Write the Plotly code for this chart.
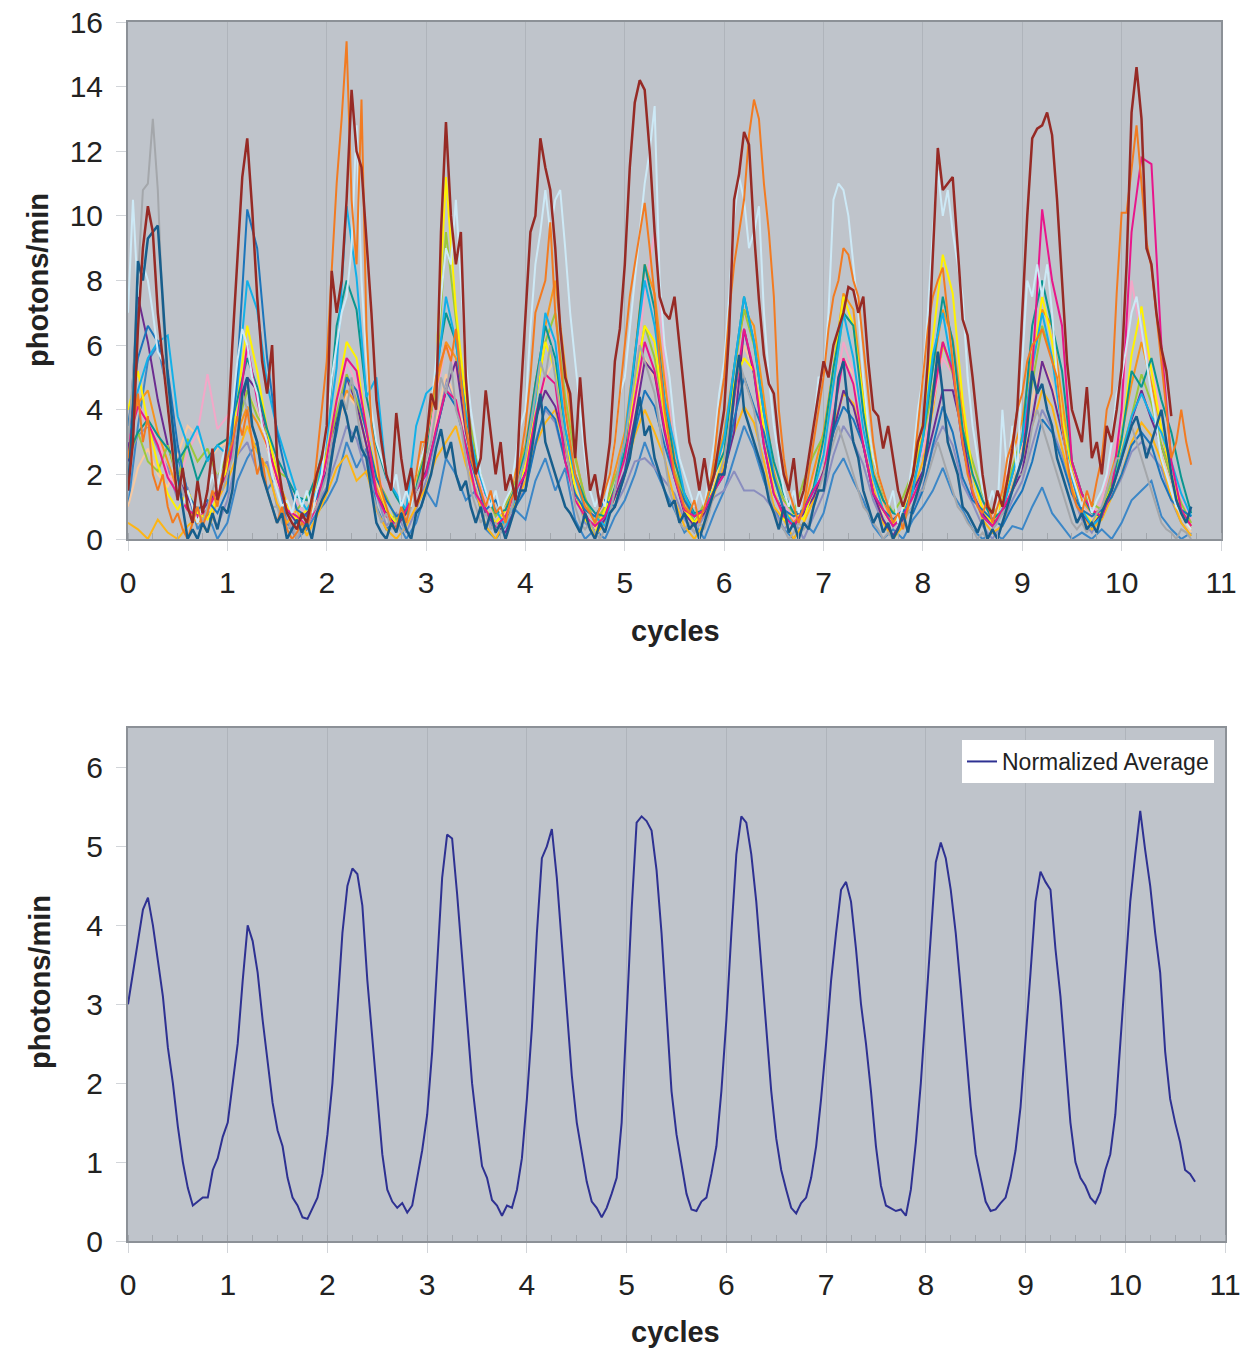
import plotly.graph_objects as go

# ---------------- data (photons/min) ----------------
STEP_FINE = 0.05    # cycles between samples for the fine series
STEP_COARSE = 0.1   # cycles between samples for the coarse series

dark_red = [
    1.5, 3.0, 6.5, 9.0, 10.3, 9.5, 7.0, 5.5, 4.0, 2.5, 1.2, 2.2, 1.0, 0.5, 1.8, 0.8, 1.5, 2.8, 1.2, 1.8,
    3.0, 6.0, 8.5, 11.2, 12.4, 10.2, 7.5, 5.5, 4.5, 6.0, 2.5, 1.5, 0.8, 0.5, 0.3, 0.8, 0.5, 1.2, 2.0, 2.5,
    3.5, 8.3, 7.0, 8.0, 10.5, 13.9, 12.0, 11.5, 9.3, 7.0, 4.3, 3.0, 2.0, 1.5, 3.9, 2.5, 1.5, 2.2, 1.0, 1.5,
    3.0, 4.5, 4.0, 9.5, 12.9, 10.0, 8.5, 9.5, 5.0, 3.0, 2.0, 2.5, 4.6, 3.2, 2.0, 3.0, 1.5, 2.0, 1.2, 4.3,
    7.0, 9.5, 10.0, 12.4, 11.5, 10.8, 9.0, 6.5, 5.0, 4.5, 2.5, 5.0, 3.0, 1.5, 2.0, 1.0, 1.8, 3.0, 5.5, 6.5,
    8.5, 11.5, 13.5, 14.2, 13.9, 12.0, 9.5, 7.5, 7.0, 6.8, 7.5, 5.9, 4.5, 3.0, 2.5, 1.5, 2.5, 1.5, 2.0, 3.0,
    4.0, 6.4, 10.5, 11.3, 12.6, 12.2, 9.5, 7.4, 5.7, 4.8, 4.5, 3.0, 2.0, 1.5, 2.5, 1.0, 1.5, 2.5, 3.5, 4.5,
    5.5, 5.0, 6.0, 6.5, 7.0, 7.8, 7.7, 7.0, 7.5, 5.5, 4.0, 3.8, 2.8, 3.5, 2.5, 1.5, 1.0, 1.5, 2.0, 3.0,
    3.5, 5.5, 9.0, 12.1, 10.8, 11.0, 11.2, 9.0, 6.8, 6.3, 5.0, 3.5, 2.0, 1.0, 0.8, 1.5, 1.0, 1.8, 2.8, 4.0,
    7.0, 10.0, 12.4, 12.7, 12.8, 13.2, 12.5, 10.5, 8.0, 5.5, 4.0, 3.5, 3.0, 4.7, 2.5, 3.0, 2.0, 3.5, 3.0, 4.0,
    5.3, 8.5, 13.2, 14.6, 13.0, 9.0, 8.5, 7.0, 5.9, 5.2, 3.8,
]

orange = [
    2.5, 3.5, 4.5, 3.0, 3.8, 2.0, 1.5, 2.0, 1.0, 0.5, 0.8, 0.3, 0.0, 0.5, 1.0, 0.4, 0.8, 1.5, 1.0, 2.0,
    2.5, 3.0, 3.8, 3.2, 4.0, 3.0, 2.0, 2.5, 1.5, 1.0, 0.5, 1.0, 0.3, 0.0, 0.2, 0.5, 0.3, 1.0, 2.5, 4.0,
    5.5, 8.3, 11.0, 13.0, 15.4, 10.5, 8.5, 13.6, 6.5, 3.5, 2.5, 1.5, 1.0, 0.5, 0.3, 1.0, 0.5, 1.2, 2.0, 3.0,
    3.0, 4.0, 5.0, 5.5, 6.0, 5.5, 6.5, 5.0, 3.5, 2.5, 2.0, 1.5, 1.0, 1.5, 0.8, 1.0, 0.5, 1.2, 1.5, 2.5,
    3.5, 5.0, 7.0, 7.5, 8.0, 9.8, 7.0, 5.5, 4.0, 3.0, 2.0, 1.5, 1.0, 0.8, 0.5, 1.0, 1.5, 2.0, 3.0, 4.5,
    6.0, 7.5, 8.5, 9.5, 10.4, 9.0, 7.5, 5.5, 4.0, 3.0, 2.0, 1.5, 1.0, 0.8, 1.2, 0.5, 1.0, 1.5, 2.5, 4.0,
    5.0, 7.0, 8.5, 9.5, 10.5, 12.5, 13.6, 13.0, 11.0, 9.5, 7.5, 4.0, 2.5, 1.5, 1.0, 0.5, 1.0, 2.0, 3.0, 4.0,
    5.0, 6.5, 7.5, 8.0, 9.0, 8.8, 8.0, 7.5, 6.0, 4.5, 3.0, 2.0, 1.5, 1.0, 0.5, 0.8, 0.3, 1.0, 2.0, 3.5,
    5.0, 6.5, 7.5, 8.0, 8.4, 7.0, 5.5, 4.0, 3.0, 2.0, 1.5, 1.0, 0.8, 1.2, 0.5, 1.0, 1.5, 2.5, 3.0, 4.0,
    4.5, 5.5, 6.0, 6.2, 6.5, 6.0, 5.5, 5.0, 3.5, 2.5, 1.5, 1.0, 0.8, 1.5, 1.0, 1.8, 2.5, 4.0, 4.5, 7.6,
    10.1, 10.1, 11.5, 12.8, 11.0, 9.2, 8.4, 7.0, 5.5, 4.0, 2.5, 3.0, 4.0, 3.0, 2.3,
]

light_blue = [
    7.0, 10.5, 7.5, 8.5, 8.0, 7.0, 5.8, 5.5, 4.0, 2.5, 1.5, 1.0, 1.5, 1.0, 0.5, 1.0, 1.5, 2.0, 1.5, 2.5,
    3.0, 4.0, 5.5, 6.5, 6.0, 5.0, 4.5, 3.5, 3.0, 2.0, 1.5, 1.0, 1.2, 0.8, 1.5, 1.0, 1.5, 0.8, 1.5, 2.0,
    3.5, 5.0, 6.0, 7.0, 7.5, 9.0, 12.8, 8.0, 5.5, 4.0, 3.0, 2.5, 2.0, 1.5, 2.0, 1.0, 1.5, 1.0, 2.0, 2.5,
    3.0, 4.0, 5.5, 7.5, 9.0, 8.5, 10.5, 8.0, 5.5, 4.0, 3.0, 2.0, 1.5, 1.0, 1.5, 0.8, 1.2, 1.5, 2.5, 3.5,
    4.0, 6.5, 8.5, 9.5, 10.8, 9.5, 10.5, 10.8, 9.0, 7.0, 5.5, 4.0, 2.5, 1.5, 1.0, 1.5, 1.0, 2.0, 3.0, 4.5,
    5.0, 6.5, 8.0, 9.5, 11.0, 12.0, 13.4, 8.0, 6.0, 5.0, 3.5, 2.5, 2.0, 1.5, 1.0, 1.5, 1.0, 2.0, 3.0, 4.5,
    5.5, 7.5, 10.0, 11.2, 10.5, 9.0, 9.5, 10.3, 7.0, 5.0, 3.5, 2.5, 1.5, 1.0, 1.5, 0.8, 1.5, 2.5, 3.5, 5.0,
    5.0, 7.0, 10.5, 11.0, 10.8, 10.0, 8.5, 7.0, 5.0, 3.5, 2.5, 2.0, 1.5, 1.0, 1.5, 0.5, 1.0, 1.5, 2.5, 4.0,
    5.0, 7.0, 9.5, 11.4, 10.0, 10.8, 9.5, 8.5, 7.5, 5.0, 3.5, 2.5, 1.5, 1.0, 1.5, 0.8, 4.0, 2.0, 3.5, 2.0,
    5.5, 8.0, 7.5, 8.5, 7.5, 8.5, 7.0, 5.0, 3.5, 2.5, 2.0, 1.5, 1.0, 1.5, 0.8, 1.2, 1.5, 2.0, 3.0, 4.5,
    5.0, 6.0, 7.0, 7.5, 6.5, 5.5, 4.5, 3.5, 2.5, 2.0, 1.5, 1.0, 0.8, 0.5, 0.3,
]

dark_teal = [
    1.5, 4.0, 8.6, 8.0, 9.3, 9.5, 9.7, 7.4, 5.0, 3.5, 2.0, 1.0, 0.0, 0.3, 0.0, 0.5, 0.2, 0.8, 0.3, 1.0,
    0.8, 1.5, 3.0, 4.5, 5.0, 3.5, 3.0, 2.0, 1.5, 1.0, 0.5, 0.8, 0.0, 0.3, 0.6, 0.2, 0.5, 0.0, 0.8, 1.2,
    1.5, 2.5, 3.5, 4.3, 3.8, 3.0, 3.5, 2.8, 2.5, 1.5, 0.5, 0.2, 0.0, 0.5, 0.2, 0.8, 0.3, 0.0, 0.8, 1.0,
    1.5, 2.0, 2.8, 3.4, 2.5, 3.0, 2.0, 1.5, 1.8, 1.0, 0.5, 1.0, 0.3, 0.8, 0.2, 0.5, 0.0, 0.5, 1.0, 1.5,
    1.5, 2.5, 3.5, 4.5, 3.0, 2.5, 2.0, 1.5, 1.0, 0.8, 0.5, 0.2, 0.8, 0.3, 0.0, 0.5, 0.2, 0.8, 1.0, 1.5,
    2.0, 2.5, 3.5, 4.4, 3.2, 3.5, 2.5, 2.0, 1.5, 1.0, 1.2, 0.5, 0.8, 0.3, 0.5, 0.0, 0.5, 1.0, 1.5, 2.0,
    2.0, 3.0, 4.5, 5.7, 4.0, 3.5, 3.0, 2.5, 2.0, 1.2, 0.8, 0.3, 1.0, 0.2, 0.5, 0.0, 0.5, 0.3, 1.0, 1.5,
    1.5, 2.5, 3.5, 5.0, 5.5, 4.0, 3.0, 2.5, 1.5, 1.0, 0.5, 0.8, 0.2, 0.5, 0.0, 0.3, 0.8, 0.2, 1.0, 1.5,
    2.0, 3.0, 4.5, 5.8, 4.5, 3.0, 2.5, 2.0, 1.0, 0.8, 0.5, 0.2, 0.6, 0.0, 0.3, 0.0, 0.5, 1.0, 1.5, 2.0,
    2.5, 3.5, 5.2, 4.5, 4.8, 4.0, 3.5, 2.5, 2.0, 1.5, 1.0, 0.5, 0.8, 0.3, 0.5, 0.2, 0.8, 1.2, 1.5, 2.0,
    2.5, 3.0, 3.5, 3.8, 3.2, 2.5, 3.0, 3.5, 4.0, 3.0, 2.0, 1.2, 0.8, 0.5, 1.0,
]

gray = [
    3.0, 5.0, 8.0, 10.8, 11.0, 13.0, 10.8, 7.0, 4.5, 3.0, 2.0, 1.5, 1.0, 0.5, 1.0, 0.5, 1.0, 1.5, 2.0, 1.5,
    2.0, 2.5, 3.5, 4.5, 4.0, 3.5, 3.0, 2.0, 1.5, 1.0, 1.0, 0.5, 0.3, 0.5, 0.0, 0.5, 0.3, 0.8, 1.0, 1.5,
    2.0, 3.0, 3.5, 4.5, 4.0, 5.0, 4.0, 3.0, 2.5, 1.5, 1.0, 0.5, 0.8, 0.3, 0.5, 0.2, 0.5, 1.0, 1.5, 2.0,
    2.5, 3.0, 4.0, 5.0, 4.5, 5.5, 4.0, 3.5, 2.5, 1.5, 1.0, 0.5, 0.8, 0.3, 0.5, 0.2, 0.5, 0.8, 1.5, 2.0,
    2.5, 3.5, 4.5, 5.5, 5.0, 6.0, 5.0, 4.0, 3.0, 2.0, 1.0, 0.5, 0.3, 0.5, 0.2, 0.0, 0.3, 0.8, 1.5, 2.5,
    3.0, 4.0, 5.0, 6.0, 5.5, 5.0, 4.5, 3.5, 2.5, 1.5, 1.0, 0.5, 0.3, 0.5, 0.2, 0.5, 0.3, 0.8, 1.5, 2.0,
    2.5, 3.5, 4.5, 5.5, 5.0, 4.5, 4.0, 3.0, 2.0, 1.5, 0.8, 0.5, 0.3, 0.0, 0.2, 0.5, 0.3, 0.5, 1.0, 1.5,
    2.0, 2.5, 3.0, 3.5, 3.0, 2.5, 2.0, 1.5, 1.0, 0.8, 0.5, 0.3, 0.0, 0.2, 0.0, 0.3, 0.5, 0.8, 1.0, 1.5,
    1.5, 2.0, 2.5, 3.0, 2.5, 2.0, 1.5, 1.0, 0.8, 0.5, 0.3, 0.0, 0.2, 0.0, 0.3, 0.5, 0.8, 1.0, 1.5, 2.0,
    2.0, 2.5, 3.5, 4.0, 3.5, 3.0, 2.5, 2.0, 1.5, 1.0, 0.5, 0.3, 0.5, 0.2, 0.5, 0.8, 1.0, 1.5, 2.0, 2.5,
    2.5, 3.0, 3.5, 3.0, 2.5, 2.0, 1.5, 1.0, 0.5, 0.3, 0.2, 0.0, 0.3, 0.2, 0.0,
]

medium_blue = [
    3.5, 5.6, 6.6, 6.1, 5.2, 2.9, 1.4, 0.9, 1.2, 0.8,
    1.5, 5.2, 10.2, 9.0, 5.6, 3.3, 1.9, 0.9, 0.7, 1.3,
    2.0, 3.3, 5.0, 4.6, 3.3, 1.9, 1.2, 0.7, 0.9, 1.5,
    2.0, 3.3, 4.6, 4.1, 2.9, 1.9, 0.9, 1.2, 0.6, 1.0,
    1.5, 2.9, 4.1, 3.7, 2.4, 1.4, 0.9, 0.7, 1.2, 1.0,
    2.0, 3.3, 4.6, 4.1, 2.9, 1.9, 1.2, 0.7, 0.9, 1.5,
    2.0, 3.7, 5.0, 4.1, 3.3, 1.9, 0.9, 0.7, 0.9, 1.5,
    2.0, 3.3, 4.1, 3.7, 2.9, 1.4, 0.9, 0.6, 0.9, 0.8,
    1.5, 2.9, 4.1, 3.3, 1.9, 1.2, 0.9, 0.6, 0.4, 1.0,
    1.5, 2.4, 3.7, 3.3, 2.4, 1.4, 0.9, 0.7, 0.9, 1.3,
    2.0, 2.9, 3.3, 2.9, 1.9, 1.2, 0.9, 0.7,
]

sky_blue = [
    3.0, 4.6, 5.6, 6.1, 6.3, 3.8, 2.9, 3.5, 2.4, 2.9,
    2.6, 4.7, 8.0, 7.1, 4.8, 3.4, 2.4, 1.4, 0.9, 1.5,
    3.1, 5.3, 10.3, 8.1, 4.4, 5.0, 1.9, 1.4, 0.9, 3.5,
    4.5, 4.8, 7.5, 6.1, 3.9, 2.4, 1.4, 0.9, 0.4, 1.3,
    2.6, 4.3, 7.0, 6.1, 3.4, 1.9, 0.9, 0.7, 0.4, 1.5,
    3.1, 5.7, 8.0, 6.6, 4.3, 2.9, 1.4, 0.7, 0.9, 2.0,
    3.1, 5.3, 7.5, 6.1, 3.9, 1.9, 0.9, 0.4, 0.9, 1.5,
    2.6, 4.8, 7.0, 5.6, 3.4, 1.9, 0.9, 0.4, 0.7, 1.5,
    3.1, 5.7, 7.0, 5.2, 2.9, 1.4, 0.7, 0.4, 0.9, 2.0,
    3.1, 5.3, 7.0, 5.6, 3.4, 1.9, 0.9, 0.4, 0.7, 1.5,
    2.6, 3.8, 4.5, 3.8, 3.3, 2.4, 1.4, 0.7,
]

teal = [
    2.6, 3.3, 3.7, 3.2, 2.8, 2.4, 2.9, 1.8, 2.5, 2.9,
    3.1, 4.3, 5.6, 4.7, 3.4, 2.5, 1.9, 1.3, 1.2, 2.0,
    3.2, 6.6, 8.0, 7.1, 4.4, 2.9, 1.9, 1.3, 0.8, 1.6,
    2.7, 5.2, 7.0, 6.1, 3.8, 2.4, 1.4, 0.8, 0.9, 1.6,
    2.7, 4.8, 6.6, 5.6, 3.4, 2.0, 1.2, 0.8, 0.7, 1.6,
    2.7, 5.7, 8.5, 7.1, 4.3, 2.4, 1.4, 0.8, 0.9, 2.0,
    2.7, 5.3, 7.5, 6.1, 3.9, 2.4, 1.4, 0.8, 0.9, 1.6,
    3.1, 5.3, 7.0, 6.6, 3.9, 2.0, 1.2, 0.8, 0.7, 1.6,
    3.1, 5.3, 7.5, 6.1, 3.4, 2.0, 1.2, 0.6, 0.9, 2.0,
    3.1, 6.6, 8.0, 6.6, 5.2, 2.4, 1.4, 0.8, 0.7, 1.6,
    3.1, 5.2, 4.7, 5.6, 4.3, 3.3, 1.9, 0.8,
]

magenta = [
    3.0, 4.1, 3.6, 2.9, 1.9, 1.4, 0.9, 0.7, 0.9, 1.5,
    2.0, 3.7, 6.0, 4.3, 2.9, 1.9, 0.9, 0.7, 0.4, 1.0,
    2.5, 4.3, 5.6, 5.2, 3.4, 1.4, 0.7, 0.4, 0.9, 1.5,
    2.0, 3.4, 4.6, 4.3, 2.9, 1.4, 0.9, 0.4, 0.7, 1.5,
    2.0, 3.8, 5.1, 4.8, 2.4, 1.2, 0.7, 0.4, 0.7, 1.5,
    2.5, 4.3, 6.1, 5.2, 3.4, 1.9, 0.9, 0.7, 0.9, 1.5,
    2.0, 4.3, 6.5, 5.2, 2.9, 1.4, 0.7, 0.4, 0.9, 1.5,
    2.0, 3.8, 5.6, 4.8, 2.9, 1.4, 0.9, 0.4, 0.7, 1.3,
    2.0, 4.3, 6.1, 5.2, 2.9, 1.4, 0.7, 0.4, 0.9, 1.5,
    2.5, 5.2, 10.2, 8.0, 6.6, 2.4, 1.4, 0.9, 0.7, 1.5,
    4.0, 9.5, 11.8, 11.6, 6.0, 2.4, 0.9, 0.4,
]

yellow = [
    4.0, 5.2, 3.6, 2.3, 1.4, 0.9, 1.5, 0.8, 0.6, 1.3,
    2.2, 4.3, 6.6, 5.2, 3.4, 2.0, 1.0, 0.6, 0.9, 1.6,
    2.6, 4.3, 6.1, 5.6, 3.4, 2.0, 0.9, 0.5, 0.9, 1.6,
    2.7, 5.3, 11.2, 7.1, 4.3, 2.0, 0.9, 0.5, 0.9, 1.6,
    2.2, 4.3, 6.1, 5.2, 3.4, 1.5, 0.6, 0.2, 0.9, 1.6,
    2.6, 4.8, 6.6, 6.1, 3.8, 2.0, 0.9, 0.5, 0.9, 1.6,
    2.6, 4.8, 5.6, 5.2, 3.4, 1.5, 0.6, 0.8, 0.6, 1.6,
    3.1, 5.3, 7.5, 6.6, 4.3, 2.0, 0.9, 0.5, 0.9, 2.0,
    3.6, 6.2, 8.8, 7.6, 4.3, 2.0, 0.9, 0.5, 1.2, 2.0,
    3.1, 5.3, 7.5, 6.1, 3.8, 2.0, 0.9, 0.5, 0.9, 1.6,
    3.1, 5.7, 7.2, 5.2, 3.4, 2.0, 0.9, 0.4,
]

yellow_green = [
    2.5, 3.3, 2.4, 2.1, 2.9, 1.8, 3.1, 2.4, 2.8, 1.9,
    2.6, 3.5, 4.6, 3.8, 3.3, 2.1, 1.9, 0.9, 1.3, 1.8,
    2.7, 3.9, 5.1, 4.3, 3.4, 1.9, 1.3, 0.6, 0.9, 1.7,
    2.9, 4.8, 9.5, 6.8, 4.3, 2.6, 1.4, 0.7, 1.1, 1.8,
    2.8, 4.3, 6.1, 7.0, 4.4, 2.5, 1.3, 0.5, 1.0, 1.9,
    2.7, 4.8, 6.6, 5.6, 3.8, 2.1, 1.3, 0.5, 1.1, 2.2,
    3.1, 5.2, 7.1, 6.0, 3.9, 2.0, 1.2, 0.8, 1.8, 2.6,
    3.2, 4.8, 7.0, 6.6, 4.3, 2.5, 1.4, 0.8, 1.3, 2.1,
    3.1, 4.7, 6.1, 5.1, 3.4, 2.4, 1.4, 0.8, 1.2, 2.2,
    3.2, 4.8, 6.6, 5.6, 3.8, 2.4, 1.4, 1.1, 0.9, 1.8,
    2.7, 3.8, 5.1, 4.2, 2.9, 1.9, 1.1, 0.5,
]

purple = [
    2.4, 7.5, 6.1, 4.3, 2.9, 1.9, 1.3, 0.7, 1.1, 1.5,
    2.1, 3.3, 5.0, 4.6, 3.3, 1.9, 0.9, 0.5, 0.8, 1.3,
    2.1, 3.7, 5.0, 4.2, 2.9, 1.4, 0.8, 0.4, 0.8, 1.5,
    2.1, 3.3, 4.6, 5.5, 3.3, 1.9, 0.8, 0.4, 0.2, 1.0,
    2.1, 3.7, 4.6, 4.1, 2.9, 1.4, 0.8, 0.2, 0.6, 1.3,
    2.1, 3.7, 5.5, 5.1, 3.3, 1.9, 0.8, 0.4, 0.8, 1.5,
    2.1, 3.3, 6.5, 5.1, 2.9, 1.4, 0.8, 0.4, 0.8, 1.3,
    2.1, 3.3, 4.6, 4.1, 2.9, 1.4, 0.6, 0.1, 0.6, 1.5,
    2.1, 3.3, 4.6, 4.6, 3.3, 1.4, 0.8, 0.4, 0.8, 1.5,
    2.1, 3.7, 5.5, 4.6, 3.3, 1.9, 0.8, 0.4, 0.8, 1.5,
    2.5, 3.7, 4.6, 3.7, 2.9, 1.9, 0.8, 0.4,
]

light_pink = [
    3.0, 4.2, 3.5, 3.2, 2.0, 1.6, 2.7, 3.3, 5.1, 3.4,
    3.8, 4.3, 5.6, 4.6, 3.5, 2.4, 1.8, 1.1, 0.7, 1.5,
    2.5, 3.8, 5.5, 4.8, 3.4, 2.1, 1.3, 0.6, 0.9, 1.7,
    2.8, 4.3, 6.1, 5.2, 3.8, 2.3, 1.2, 0.7, 0.6, 1.6,
    2.7, 4.7, 6.5, 6.1, 4.3, 2.5, 1.3, 0.7, 1.0, 2.0,
    2.9, 4.8, 7.6, 9.5, 5.4, 2.6, 1.4, 0.7, 1.0, 2.1,
    3.2, 5.2, 7.0, 6.2, 3.9, 2.1, 1.1, 0.6, 0.9, 2.0,
    2.8, 4.3, 6.1, 5.2, 3.8, 2.0, 1.1, 0.6, 1.0, 2.1,
    2.7, 4.2, 5.6, 5.1, 3.4, 2.0, 1.2, 0.7, 1.5, 2.8,
    3.2, 5.1, 6.6, 5.7, 3.6, 2.0, 1.3, 0.7, 1.2, 2.6,
    3.6, 8.0, 6.2, 5.3, 3.9, 2.4, 1.3, 0.6,
]

peach = [
    1.0, 2.2, 2.8, 2.0, 1.6, 2.6, 3.5, 3.2, 2.4, 2.8,
    3.0, 3.8, 4.6, 3.9, 2.8, 1.7, 1.2, 0.6, 0.4, 1.2,
    2.2, 3.4, 4.5, 4.1, 3.0, 1.9, 0.7, 0.4, 0.9, 1.6,
    2.5, 3.6, 5.1, 4.3, 3.3, 1.8, 0.9, 0.4, 0.8, 1.5,
    2.4, 3.8, 5.0, 5.6, 3.5, 1.6, 0.8, 0.3, 0.9, 1.6,
    2.6, 4.0, 5.6, 5.0, 3.6, 2.0, 0.9, 0.5, 0.8, 1.7,
    2.9, 4.3, 6.0, 5.2, 3.5, 2.0, 0.8, 0.4, 0.9, 1.8,
    2.8, 4.4, 5.6, 5.1, 3.6, 1.9, 0.8, 0.4, 0.9, 1.8,
    3.0, 4.7, 6.1, 5.2, 3.5, 2.1, 1.0, 0.5, 0.9, 1.9,
    2.9, 4.3, 5.5, 4.8, 3.4, 2.0, 1.0, 0.6, 0.8, 1.7,
    2.8, 3.8, 4.6, 3.8, 2.9, 1.5, 0.7, 0.2,
]

golden = [
    0.5, 0.3, 0.0, 0.6, 0.2, 0.0, 0.4, 0.7, 0.2, 1.2,
    1.8, 2.6, 3.5, 2.7, 2.2, 1.1, 0.5, 0.9, 0.1, 0.7,
    1.4, 2.2, 2.6, 1.8, 2.1, 0.9, 0.3, 0.0, 0.4, 1.0,
    1.6, 2.5, 3.0, 3.5, 2.3, 1.5, 0.4, 0.0, 0.6, 1.1,
    1.8, 2.9, 3.6, 4.0, 2.8, 1.4, 0.8, 0.1, 0.5, 1.3,
    2.0, 3.2, 4.0, 3.3, 2.5, 1.2, 0.4, 0.0, 0.5, 1.4,
    2.3, 3.3, 4.1, 3.6, 2.4, 1.0, 0.6, 0.0, 0.5, 1.2,
    2.1, 3.5, 4.5, 4.2, 2.9, 1.6, 0.5, 0.0, 0.4, 1.5,
    2.4, 4.0, 6.0, 5.3, 3.4, 1.5, 0.6, 0.2, 0.4, 1.6,
    2.5, 3.5, 4.6, 4.1, 2.8, 1.6, 0.8, 0.3, 0.6, 1.3,
    2.0, 3.0, 3.6, 3.2, 2.4, 1.3, 0.5, 0.1,
]

slate = [
    2.5, 3.2, 3.5, 2.8, 2.2, 1.2, 1.6, 0.5, 0.9, 0.4,
    1.2, 2.6, 3.0, 2.1, 2.4, 1.0, 0.6, 0.0, 0.5, 1.1,
    1.6, 2.5, 3.5, 3.1, 2.0, 1.4, 0.4, 0.8, 0.2, 0.9,
    1.8, 3.2, 5.0, 4.2, 2.9, 1.3, 0.8, 0.2, 0.6, 1.2,
    1.5, 3.0, 4.0, 3.6, 2.4, 1.5, 0.5, 0.2, 0.7, 1.0,
    1.6, 2.4, 2.5, 2.2, 1.8, 1.4, 0.6, 0.2, 0.7, 1.3,
    1.5, 2.1, 1.5, 1.5, 1.3, 0.9, 0.3, 0.6, 0.0, 0.7,
    1.4, 2.6, 3.5, 3.0, 2.3, 1.2, 0.5, 0.1, 0.6, 1.0,
    1.6, 2.8, 3.5, 2.9, 1.7, 1.1, 0.4, 0.0, 0.5, 1.2,
    1.8, 2.9, 4.0, 3.4, 2.6, 1.4, 0.6, 0.2, 0.8, 1.3,
    1.9, 2.7, 3.0, 2.6, 2.2, 1.2, 0.5, 0.1,
]

light_orange = [
    3.5, 4.2, 4.6, 3.3, 2.4, 1.5, 0.9, 0.5, 0.9, 1.6,
    2.3, 3.3, 4.1, 3.6, 2.9, 1.9, 1.1, 0.5, 0.8, 1.6,
    2.7, 3.8, 4.6, 4.2, 2.9, 1.6, 0.8, 0.4, 0.8, 1.7,
    3.2, 4.7, 6.1, 5.6, 3.9, 2.0, 0.9, 0.5, 0.9, 2.1,
    2.9, 4.8, 6.6, 8.0, 5.3, 2.6, 1.2, 0.5, 0.9, 2.1,
    3.3, 5.7, 8.5, 7.6, 4.9, 2.5, 1.2, 0.5, 0.9, 2.2,
    3.3, 5.3, 7.1, 6.6, 4.4, 2.1, 0.9, 0.5, 0.9, 2.1,
    3.3, 5.3, 7.6, 7.1, 4.4, 2.1, 1.2, 0.5, 0.9, 2.1,
    3.2, 5.3, 7.1, 6.2, 3.9, 2.0, 0.9, 0.5, 1.2, 2.6,
    3.7, 5.7, 7.1, 6.6, 4.4, 2.1, 1.2, 0.8, 0.9, 2.1,
    3.2, 4.8, 6.1, 4.8, 3.4, 1.9, 0.8, 0.3,
]

steel_blue = [
    1.0, 3.5, 5.5, 6.0, 4.5, 2.5, 1.5, 0.3, 0.8, 0.0,
    0.5, 1.8, 2.5, 3.0, 1.5, 2.0, 0.5, 0.0, 0.3, 0.8,
    1.2, 1.8, 3.0, 2.2, 2.8, 1.0, 0.3, 0.6, 0.0, 0.5,
    1.5, 1.0, 2.5, 2.0, 1.2, 1.5, 0.3, 0.0, 0.4, 0.9,
    0.6, 1.8, 2.5, 1.5, 2.2, 0.6, 0.0, 0.3, 0.0, 0.7,
    1.2, 2.0, 3.0, 2.2, 1.5, 0.9, 0.2, 0.5, 0.0, 0.8,
    1.5, 2.5, 3.5, 2.8, 1.8, 1.0, 0.3, 0.0, 0.5, 0.2,
    0.8, 2.0, 2.5, 1.8, 1.2, 0.4, 0.0, 0.3, 0.0, 0.6,
    1.0, 1.5, 2.2, 1.4, 0.9, 0.3, 0.0, 0.2, 0.0, 0.4,
    0.3, 1.0, 1.6, 0.8, 0.4, 0.0, 0.2, 0.0, 0.3, 0.0,
    0.5, 1.2, 1.5, 1.8, 0.7, 0.3, 0.0, 0.2,
]

normalized_average = [
    3.0, 3.4, 3.8, 4.2, 4.35, 4.0, 3.55, 3.1, 2.45, 2.0, 1.45, 1.0, 0.67, 0.45, 0.5, 0.55, 0.55, 0.9, 1.05, 1.32,
    1.5, 2.0, 2.5, 3.3, 4.0, 3.8, 3.4, 2.8, 2.3, 1.75, 1.4, 1.2, 0.8, 0.55, 0.45, 0.3, 0.28, 0.42, 0.55, 0.85,
    1.35, 2.0, 2.9, 3.9, 4.5, 4.72, 4.65, 4.25, 3.3, 2.6, 1.9, 1.1, 0.65, 0.5, 0.42, 0.48, 0.36, 0.45, 0.8, 1.15,
    1.6, 2.4, 3.5, 4.6, 5.15, 5.1, 4.4, 3.6, 2.8, 2.0, 1.45, 0.95, 0.8, 0.52, 0.45, 0.32, 0.45, 0.42, 0.65, 1.05,
    1.8, 2.7, 3.9, 4.85, 5.0, 5.22, 4.6, 3.8, 2.9, 2.1, 1.5, 1.15, 0.75, 0.5, 0.42, 0.3, 0.42, 0.6, 0.8, 1.5,
    2.8, 4.2, 5.3, 5.38, 5.32, 5.2, 4.7, 3.9, 2.9, 1.9, 1.35, 0.95, 0.6, 0.4, 0.38, 0.5, 0.55, 0.85, 1.2, 1.9,
    2.8, 3.9, 4.9, 5.38, 5.3, 4.9, 4.3, 3.5, 2.7, 1.9, 1.3, 0.9, 0.65, 0.42, 0.35, 0.48, 0.55, 0.8, 1.2, 1.8,
    2.5, 3.3, 3.9, 4.45, 4.55, 4.3, 3.7, 3.0, 2.5, 1.9, 1.2, 0.7, 0.45, 0.42, 0.38, 0.4, 0.32, 0.65, 1.25, 2.0,
    2.9, 3.9, 4.8, 5.05, 4.85, 4.45, 3.9, 3.2, 2.4, 1.7, 1.1, 0.8, 0.5, 0.38, 0.4, 0.48, 0.55, 0.8, 1.15, 1.7,
    2.5, 3.4, 4.3, 4.68, 4.55, 4.45, 3.7, 3.1, 2.3, 1.5, 1.0, 0.8, 0.7, 0.55, 0.48, 0.62, 0.9, 1.1, 1.6, 2.5,
    3.5, 4.3, 4.9, 5.45, 4.95, 4.5, 3.9, 3.4, 2.4, 1.8, 1.5, 1.25, 0.9, 0.85, 0.75,
]

# drawing order (first = underneath), colours, sampling step, line width
top_series = [
    ("steel blue", steel_blue, STEP_COARSE, "#3C87C7", 2),
    ("slate", slate, STEP_COARSE, "#8A8EBF", 2),
    ("golden", golden, STEP_COARSE, "#FDB515", 2),
    ("peach", peach, STEP_COARSE, "#F8C9A0", 2),
    ("light pink", light_pink, STEP_COARSE, "#F3A7C8", 2),
    ("light orange", light_orange, STEP_COARSE, "#F7941D", 2),
    ("purple", purple, STEP_COARSE, "#6B2C91", 2),
    ("yellow green", yellow_green, STEP_COARSE, "#9BC83C", 2),
    ("yellow", yellow, STEP_COARSE, "#FFF200", 2),
    ("teal", teal, STEP_COARSE, "#0A9690", 2),
    ("sky blue", sky_blue, STEP_COARSE, "#13B0E8", 2),
    ("medium blue", medium_blue, STEP_COARSE, "#1B75BB", 2),
    ("magenta", magenta, STEP_COARSE, "#E8168B", 2),
    ("gray", gray, STEP_FINE, "#A4A7AB", 2),
    ("light blue", light_blue, STEP_FINE, "#CDE9F6", 2),
    ("orange", orange, STEP_FINE, "#F27B21", 2),
    ("dark teal", dark_teal, STEP_FINE, "#175E8C", 2.5),
    ("dark red", dark_red, STEP_FINE, "#962A25", 2.5),
]

FONT = "Liberation Sans, Arial, Helvetica, sans-serif"
W, H = 1242, 1349

fig = go.Figure()
for name, vals, step, color, width in top_series:
    fig.add_trace(go.Scatter(
        x=[round(i * step, 3) for i in range(len(vals))], y=vals,
        mode="lines", line=dict(color=color, width=width),
        name=name, showlegend=False, xaxis="x", yaxis="y",
    ))

fig.add_trace(go.Scatter(
    x=[round(i * STEP_FINE, 3) for i in range(len(normalized_average))],
    y=normalized_average, mode="lines",
    line=dict(color="#2E3192", width=2),
    name="Normalized Average", showlegend=True, xaxis="x2", yaxis="y2",
))

# plot-area pixel boxes
top_box = dict(l=128, r=1221, t=22, b=539)
bot_box = dict(l=128, r=1225, t=728, b=1241)


def xdom(b):
    return [b["l"] / W, b["r"] / W]


def ydom(b):
    return [1 - b["b"] / H, 1 - b["t"] / H]


grid_col = "#AFB4BB"
frame_col = "#8C9197"
tick_col = "#D2D5D9"

xcommon = dict(
    range=[0, 11], tickmode="linear", tick0=0, dtick=1,
    showgrid=True, gridcolor=grid_col, gridwidth=1,
    ticks="outside", ticklen=10, tickcolor=tick_col, tickwidth=1,
    showline=True, linecolor=frame_col, linewidth=2, mirror=True,
    minor=dict(dtick=0.25, ticks="inside", ticklen=6, tickcolor="#A2A7AD", showgrid=False),
    tickfont=dict(family=FONT, size=30, color="#222222"),
    ticklabelstandoff=6, zeroline=False, fixedrange=True, automargin=False,
)
ycommon = dict(
    showgrid=False, ticks="outside", ticklen=10, tickcolor=tick_col, tickwidth=1,
    showline=True, linecolor=frame_col, linewidth=2, mirror=True,
    tickfont=dict(family=FONT, size=30, color="#222222"),
    ticklabelstandoff=7, zeroline=False, fixedrange=True, automargin=False,
)

fig.update_layout(
    width=W, height=H,
    margin=dict(l=0, r=0, t=0, b=0, autoexpand=False),
    paper_bgcolor="white", plot_bgcolor="#BFC4CB",
    xaxis=dict(domain=xdom(top_box), anchor="y", **xcommon),
    yaxis=dict(domain=ydom(top_box), anchor="x", range=[0, 16], dtick=2, tick0=0, **ycommon),
    xaxis2=dict(domain=xdom(bot_box), anchor="y2", **xcommon),
    yaxis2=dict(domain=ydom(bot_box), anchor="x2", range=[0, 6.5], dtick=1, tick0=0, **ycommon),
    legend=dict(
        x=1214 / W, xanchor="right", y=1 - 740 / H, yanchor="top",
        bgcolor="white", borderwidth=0,
        font=dict(family=FONT, size=23, color="#222222"),
    ),
    showlegend=True,
)

title_font = dict(family=FONT, size=29, color="#222222")
annotations = [
    dict(text="<b>photons/min</b>", x=38 / W, y=1 - 280 / H, textangle=-90),
    dict(text="<b>cycles</b>", x=675 / W, y=1 - 631 / H, textangle=0),
    dict(text="<b>photons/min</b>", x=40 / W, y=1 - 982 / H, textangle=-90),
    dict(text="<b>cycles</b>", x=675 / W, y=1 - 1332 / H, textangle=0),
]
for a in annotations:
    fig.add_annotation(xref="paper", yref="paper", showarrow=False,
                       xanchor="center", yanchor="middle", font=title_font, **a)

fig.write_html(
    "out.html",
    config={"displayModeBar": False, "staticPlot": True},
    post_script="document.body.style.margin='0';document.body.style.overflow='hidden';",
)
